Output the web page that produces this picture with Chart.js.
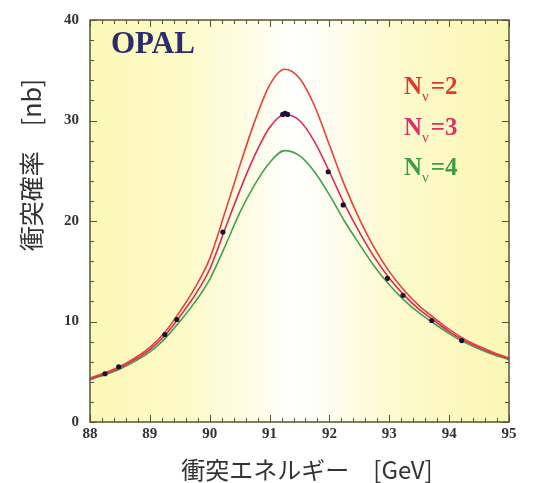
<!DOCTYPE html>
<html><head><meta charset="utf-8">
<script src="https://cdn.jsdelivr.net/npm/chart.js@4/dist/chart.umd.min.js"></script>
<style>html,body{margin:0;padding:0;background:#fff;}canvas{display:block;}</style>
</head><body>
<canvas id="c" width="533" height="483"></canvas>
<script>
// Energy grid (GeV) for the model curves
const energy = [88.0,88.25,88.5,88.75,89.0,89.25,89.5,89.75,90.0,90.25,90.5,90.75,91.0,91.25,91.5,91.75,92.0,92.25,92.5,92.75,93.0,93.25,93.5,93.75,94.0,94.25,94.5,94.75,95.0];
// Cross sections (nb)
const nu2 = [4.37,4.90,5.52,6.37,7.43,8.93,10.98,13.32,16.26,20.76,25.46,29.89,33.52,35.1,34.2,31.47,27.56,23.59,20.22,17.33,14.96,13.08,11.56,10.37,9.21,8.26,7.53,6.90,6.38];
const nu3 = [4.3,4.8,5.4,6.2,7.2,8.6,10.5,12.6,15.2,19.1,23.0,26.5,29.3,30.6,30.0,27.9,24.9,21.7,18.9,16.4,14.3,12.6,11.2,10.1,9.0,8.1,7.4,6.8,6.3];
const nu4 = [4.22,4.70,5.27,6.03,6.97,8.27,10.0,11.9,14.2,17.4,20.8,23.6,25.8,27.0,26.5,24.9,22.6,20.0,17.7,15.5,13.65,12.1,10.85,9.8,8.8,7.95,7.27,6.7,6.2];
// OPAL measurements
const dataE = [88.25,88.48,89.25,89.45,90.22,91.22,91.26,91.30,91.98,92.23,92.97,93.23,93.71,94.21];
const dataSigma = [4.8,5.5,8.7,10.2,18.9,30.6,30.7,30.6,24.9,21.6,14.3,12.6,10.1,8.1];
// Axes
const xTicks = [88,89,90,91,92,93,94,95];
const yTicks = [0,10,20,30,40];
const nuLabels = ['2','3','4'];
const nuColors = ['#e2392f','#de2f6c','#3f9c46'];
const lineColors = ['#e8413a','#d92a62','#44a04c'];
const experiment = 'OPAL';
const xTitle = '衝突エネルギー　[GeV]';
const yTitle = '衝突確率　[nb]';

const pts = (xs, ys) => xs.map((x, i) => ({x: x, y: ys[i]}));

const decor = {
  id: 'decor',
  beforeDraw(chart) {
    const {ctx, chartArea: a} = chart;
    const g = ctx.createLinearGradient(a.left, 0, a.right, 0);
    g.addColorStop(0, '#fcf8b6');
    g.addColorStop(0.22, '#fdfac8');
    g.addColorStop(0.40, '#fefde9');
    g.addColorStop(0.48, '#ffffff');
    g.addColorStop(0.56, '#fefef2');
    g.addColorStop(0.72, '#fdfad0');
    g.addColorStop(0.88, '#fcf8be');
    g.addColorStop(1, '#fbf7b6');
    ctx.save();
    ctx.fillStyle = g;
    ctx.fillRect(a.left, a.top, a.right - a.left, a.bottom - a.top);
    ctx.restore();
  },
  afterDraw(chart) {
    const {ctx, chartArea: a, scales} = chart;
    const sx = scales.x, sy = scales.y;
    ctx.save();
    ctx.strokeStyle = '#55552f';
    ctx.lineWidth = 1.5;
    ctx.strokeRect(a.left, a.top, a.right - a.left, a.bottom - a.top);
    ctx.lineWidth = 1;
    ctx.beginPath();
    for (let i = 0; i <= 35; i++) {
      const v = 88 + i * 0.2;
      const px = Math.round(sx.getPixelForValue(v)) + 0.5;
      const len = (i % 5 === 0) ? 7 : 4;
      ctx.moveTo(px, a.bottom); ctx.lineTo(px, a.bottom - len);
      ctx.moveTo(px, a.top); ctx.lineTo(px, a.top + len);
    }
    for (let i = 0; i <= 20; i++) {
      const v = i * 2;
      const py = Math.round(sy.getPixelForValue(v)) + 0.5;
      const len = (i % 5 === 0) ? 7 : 4;
      ctx.moveTo(a.left, py); ctx.lineTo(a.left + len, py);
      ctx.moveTo(a.right, py); ctx.lineTo(a.right - len, py);
    }
    ctx.stroke();

    // OPAL label
    ctx.fillStyle = '#2c2c6c';
    ctx.font = 'bold 31px "Liberation Serif"';
    ctx.textBaseline = 'alphabetic';
    ctx.textAlign = 'left';
    ctx.fillText(experiment, 111, 53);

    // N_nu legend
    const baselines = [94, 135, 175];
    nuLabels.forEach((n, i) => {
      let x = 404; const y = baselines[i];
      ctx.fillStyle = nuColors[i];
      ctx.font = 'bold 25px "Liberation Serif"';
      ctx.fillText('N', x, y);
      x += ctx.measureText('N').width;
      ctx.font = '15px "Liberation Serif"';
      ctx.fillText('ν', x, y + 7);
      x += ctx.measureText('ν').width + 2;
      ctx.font = 'bold 25px "Liberation Serif"';
      ctx.fillText('=' + n, x, y);
    });

    // axis titles
    ctx.fillStyle = '#333333';
    ctx.font = '24px "Noto Sans CJK JP"';
    ctx.textAlign = 'center';
    ctx.textBaseline = 'middle';
    ctx.fillText(xTitle, 307, 470);
    ctx.translate(31, 165);
    ctx.rotate(-Math.PI / 2);
    ctx.font = '25px "Noto Sans CJK JP"';
    ctx.fillText(yTitle, 0, 0);
    ctx.restore();
  }
};

const tickFont = {family: '"Liberation Serif"', size: 15, weight: 'bold'};

new Chart(document.getElementById('c'), {
  type: 'scatter',
  data: {
    datasets: [
      {label: 'OPAL', data: pts(dataE, dataSigma), pointRadius: 2.6, pointBackgroundColor: '#1b1236', pointBorderWidth: 0, showLine: false},
      {label: 'Nν=2', data: pts(energy, nu2), showLine: true, pointRadius: 0, borderColor: lineColors[0], borderWidth: 1.6, cubicInterpolationMode: 'monotone'},
      {label: 'Nν=3', data: pts(energy, nu3), showLine: true, pointRadius: 0, borderColor: lineColors[1], borderWidth: 1.6, cubicInterpolationMode: 'monotone'},
      {label: 'Nν=4', data: pts(energy, nu4), showLine: true, pointRadius: 0, borderColor: lineColors[2], borderWidth: 1.6, cubicInterpolationMode: 'monotone'}
    ]
  },
  options: {
    responsive: false,
    animation: false,
    devicePixelRatio: 1,
    layout: {padding: {left: 0, top: 13, right: 24, bottom: 0}},
    plugins: {legend: {display: false}, tooltip: {enabled: false}},
    scales: {
      x: {
        type: 'linear', min: 88, max: 95,
        afterBuildTicks: (s) => { s.ticks = xTicks.map(v => ({value: v})); },
        ticks: {font: tickFont, color: '#333', padding: 3, maxRotation: 0, autoSkip: false},
        grid: {display: false, drawTicks: false},
        border: {display: false},
        afterFit: (s) => { s.height = 61; }
      },
      y: {
        type: 'linear', min: 0, max: 40,
        afterBuildTicks: (s) => { s.ticks = yTicks.map(v => ({value: v})); },
        ticks: {font: tickFont, color: '#333', padding: 11, autoSkip: false},
        grid: {display: false, drawTicks: false},
        border: {display: false},
        afterFit: (s) => { s.width = 90; }
      }
    }
  },
  plugins: [decor]
});
</script>
</body></html>
